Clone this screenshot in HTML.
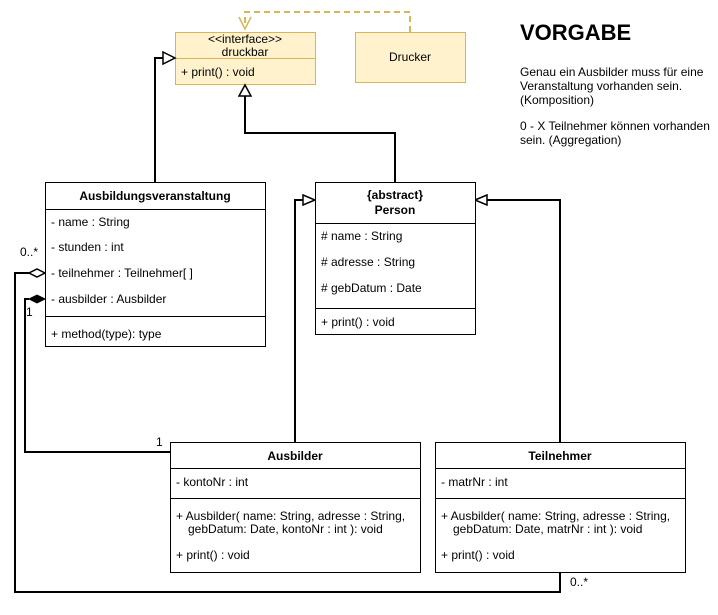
<!DOCTYPE html>
<html><head><meta charset="utf-8"><style>
body{margin:0;background:#fff}
text{font-family:"Liberation Sans",sans-serif;font-size:12px;fill:#000}
.b{font-weight:bold}
</style></head><body>
<svg width="718" height="610" viewBox="0 0 718 610" xmlns="http://www.w3.org/2000/svg">
<!-- dashed dependency -->
<path d="M410 32 V12 H245 V28" fill="none" stroke="#d6b656" stroke-width="2" stroke-dasharray="6 4"/>
<path d="M239 17 L245 29 L251 17" fill="none" stroke="#d6b656" stroke-width="1.5"/>
<!-- interface -->
<rect x="175.5" y="32.5" width="140" height="52" fill="#fff2cc" stroke="#d6b656"/>
<line x1="175" y1="58.5" x2="316" y2="58.5" stroke="#d6b656"/>
<text x="245" y="43" text-anchor="middle">&lt;&lt;interface&gt;&gt;</text>
<text x="245" y="56" text-anchor="middle">druckbar</text>
<text x="181" y="76">+ print() : void</text>
<!-- Drucker -->
<rect x="355.5" y="32.5" width="110" height="50" fill="#fff2cc" stroke="#d6b656"/>
<text x="410" y="61" text-anchor="middle">Drucker</text>
<!-- generalization lines -->
<path d="M155 182 V58 H163" fill="none" stroke="#000" stroke-width="2"/>
<path d="M163 52 L175 58 L163 64 Z" fill="#fff" stroke="#000" stroke-width="1.5"/>
<path d="M395 182 V133 H245 V96" fill="none" stroke="#000" stroke-width="2"/>
<path d="M239 96 L245 85 L251 96 Z" fill="#fff" stroke="#000" stroke-width="1.5"/>
<path d="M295 442 V200 H303" fill="none" stroke="#000" stroke-width="2"/>
<path d="M303 195 L315 200 L303 205 Z" fill="#fff" stroke="#000" stroke-width="1.5"/>
<path d="M560 442 V200 H487" fill="none" stroke="#000" stroke-width="2"/>
<path d="M487 195 L475 200 L487 205 Z" fill="#fff" stroke="#000" stroke-width="1.5"/>
<!-- associations -->
<path d="M29 299 H25 V452 H170" fill="none" stroke="#000" stroke-width="2"/>
<path d="M45 299 L37 295 L29 299 L37 303 Z" fill="#000" stroke="#000"/>
<path d="M29 273 H15 V592 H560 V572" fill="none" stroke="#000" stroke-width="2"/>
<path d="M45 273 L37 269 L29 273 L37 277 Z" fill="#fff" stroke="#000" stroke-width="1.5"/>
<text x="20" y="256">0..*</text>
<text x="26" y="316">1</text>
<text x="156" y="446">1</text>
<text x="570" y="586">0..*</text>
<!-- Ausbildungsveranstaltung -->
<rect x="45.5" y="182.5" width="220" height="164" fill="#fff" stroke="#000"/>
<line x1="45" y1="209.5" x2="266" y2="209.5" stroke="#000"/>
<line x1="45" y1="316.5" x2="266" y2="316.5" stroke="#000"/>
<text x="155" y="200" text-anchor="middle" class="b">Ausbildungsveranstaltung</text>
<text x="51" y="226">- name : String</text>
<text x="51" y="251">- stunden : int</text>
<text x="51" y="277">- teilnehmer : Teilnehmer[ ]</text>
<text x="51" y="303">- ausbilder : Ausbilder</text>
<text x="51" y="338">+ method(type): type</text>
<!-- Person -->
<rect x="315.5" y="182.5" width="160" height="152" fill="#fff" stroke="#000"/>
<line x1="315" y1="223.5" x2="476" y2="223.5" stroke="#000"/>
<line x1="315" y1="308.5" x2="476" y2="308.5" stroke="#000"/>
<text x="395" y="199" text-anchor="middle" class="b">{abstract}</text>
<text x="395" y="214" text-anchor="middle" class="b">Person</text>
<text x="321" y="240"># name : String</text>
<text x="321" y="266"># adresse : String</text>
<text x="321" y="292"># gebDatum : Date</text>
<text x="321" y="326">+ print() : void</text>
<!-- Ausbilder -->
<rect x="170.5" y="442.5" width="250" height="130" fill="#fff" stroke="#000"/>
<line x1="170" y1="468.5" x2="421" y2="468.5" stroke="#000"/>
<line x1="170" y1="498.5" x2="421" y2="498.5" stroke="#000"/>
<text x="295" y="460" text-anchor="middle" class="b">Ausbilder</text>
<text x="176" y="486">- kontoNr : int</text>
<text x="176" y="520">+ Ausbilder( name: String, adresse : String,</text>
<text x="188" y="533">gebDatum: Date, kontoNr : int ): void</text>
<text x="176" y="559">+ print() : void</text>
<!-- Teilnehmer -->
<rect x="435.5" y="442.5" width="250" height="130" fill="#fff" stroke="#000"/>
<line x1="435" y1="468.5" x2="686" y2="468.5" stroke="#000"/>
<line x1="435" y1="498.5" x2="686" y2="498.5" stroke="#000"/>
<text x="560" y="460" text-anchor="middle" class="b">Teilnehmer</text>
<text x="441" y="486">- matrNr : int</text>
<text x="441" y="520">+ Ausbilder( name: String, adresse : String,</text>
<text x="453" y="533">gebDatum: Date, matrNr : int ): void</text>
<text x="441" y="559">+ print() : void</text>
<!-- Vorgabe -->
<text x="520" y="40" class="b" style="font-size:22px">VORGABE</text>
<text x="520" y="76">Genau ein Ausbilder muss für eine</text>
<text x="520" y="90">Veranstaltung vorhanden sein.</text>
<text x="520" y="104">(Komposition)</text>
<text x="520" y="130">0 - X Teilnehmer können vorhanden</text>
<text x="520" y="144">sein. (Aggregation)</text>
</svg>
</body></html>
